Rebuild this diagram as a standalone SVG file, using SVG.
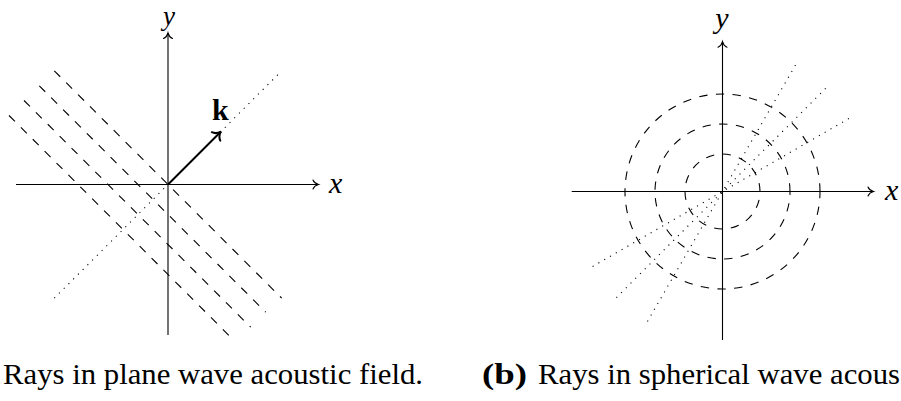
<svg xmlns="http://www.w3.org/2000/svg" width="901" height="401" viewBox="0 0 901 401">
<style>
.ax{stroke:#000;stroke-width:1.1;fill:none;marker-end:url(#to)}
.dash{stroke:#000;stroke-width:1.1;fill:none;stroke-dasharray:8.4 8.4}
.dot{stroke:#000;stroke-width:1.1;fill:none;stroke-dasharray:1.1 5.6}
</style>
<defs>
<marker id="to" markerUnits="userSpaceOnUse" markerWidth="12" markerHeight="12" viewBox="-8 -6 10 12" refX="0" refY="0" orient="auto">
<path d="M-5.5,-4.5 C-4.5,-2 -1.5,-0.4 0,0 C-1.5,0.4 -4.5,2 -5.5,4.5" fill="none" stroke="#000" stroke-width="1.1" stroke-linecap="round"/>
</marker>
<marker id="tok" markerUnits="userSpaceOnUse" markerWidth="16" markerHeight="16" viewBox="-10 -8 12 16" refX="0" refY="0" orient="auto">
<path d="M-7,-6 C-5.8,-2.6 -2,-0.5 0,0 C-2,0.5 -5.8,2.6 -7,6" fill="none" stroke="#000" stroke-width="2" stroke-linecap="round"/>
</marker>
</defs>

<g id="plane">
<g id="plane-fronts">
<line class="dash" x1="54.3" y1="70.8" x2="281.7" y2="298.2"/>
<line class="dash" x1="39.3" y1="85.8" x2="265.7" y2="312.2"/>
<line class="dash" x1="24" y1="100.5" x2="250.7" y2="327.2"/>
<line class="dash" x1="9" y1="115.5" x2="229" y2="335.5"/>
</g>
<g id="plane-ray">
<line class="dot" x1="54.3" y1="298.2" x2="281.7" y2="70.8"/>
</g>
<g id="plane-axes">
<line class="ax" x1="16" y1="184.5" x2="318.5" y2="184.5"/>
<line class="ax" x1="168" y1="335" x2="168" y2="33"/>
<text font-family="'Liberation Serif', serif" font-style="italic" font-size="30" x="329" y="193">x</text>
<text font-family="'Liberation Serif', serif" font-style="italic" font-size="27" x="169" y="25" text-anchor="middle">y</text>
</g>
<g id="k-vector">
<line x1="168" y1="184.5" x2="221" y2="131.5" stroke="#000" stroke-width="2" marker-end="url(#tok)"/>
<text x="212" y="120" font-family="'Liberation Serif', serif" font-weight="bold" font-size="30">k</text>
</g>
</g>

<g id="spherical">
<g id="sph-fronts">
<path class="dash" d="M760,191.5 A37.5,37.5 0 1 0 685,191.5 A37.5,37.5 0 1 0 760,191.5"/>
<path class="dash" d="M790,191.5 A67.5,67.5 0 1 0 655,191.5 A67.5,67.5 0 1 0 790,191.5"/>
<path class="dash" d="M820,191.5 A97.5,97.5 0 1 0 625,191.5 A97.5,97.5 0 1 0 820,191.5"/>
</g>
<g id="sph-rays">
<line class="dot" x1="647.5" y1="321.4" x2="797.5" y2="61.6"/>
<line class="dot" x1="616.4" y1="297.6" x2="828.6" y2="85.4"/>
<line class="dot" x1="592.6" y1="266.5" x2="852.4" y2="116.5"/>
</g>
<g id="sph-axes">
<line class="ax" x1="571.7" y1="191.5" x2="873.5" y2="191.5"/>
<line class="ax" x1="722.5" y1="340" x2="722.5" y2="41.7"/>
<text font-family="'Liberation Serif', serif" font-style="italic" font-size="30" x="885" y="200">x</text>
<text font-family="'Liberation Serif', serif" font-style="italic" font-size="30" x="722" y="28" text-anchor="middle">y</text>
</g>
</g>

<g id="captions" font-family="'Liberation Serif', serif" font-size="30">
<text x="3" y="384" textLength="420" lengthAdjust="spacingAndGlyphs">Rays in plane wave acoustic field.</text>
<text x="482" y="384" font-weight="bold" textLength="45" lengthAdjust="spacingAndGlyphs">(b)</text>
<text x="538" y="384" textLength="362" lengthAdjust="spacingAndGlyphs">Rays in spherical wave acous</text>
</g>
</svg>
